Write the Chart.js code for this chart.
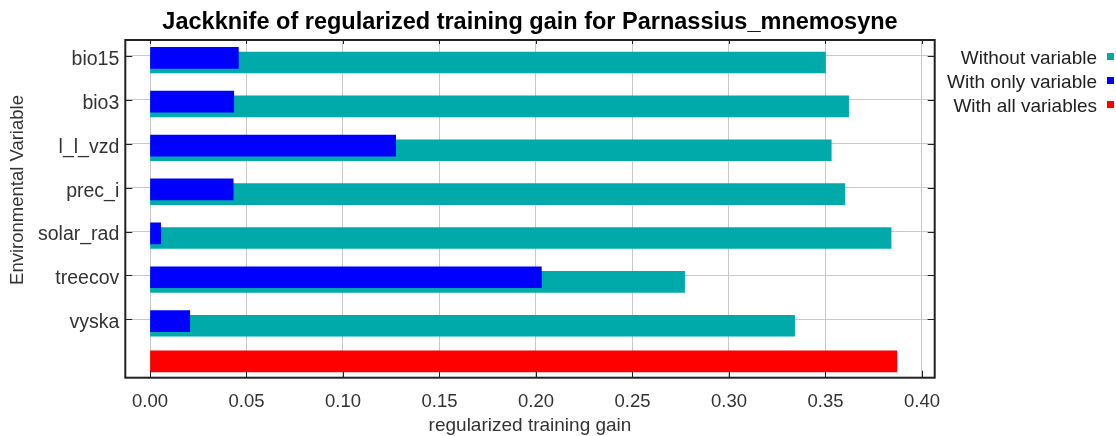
<!DOCTYPE html>
<html>
<head>
<meta charset="utf-8">
<script src="https://cdn.jsdelivr.net/npm/chart.js@4.4.1/dist/chart.umd.min.js"></script>
<style>
html,body{margin:0;padding:0;background:#fff;}
#wrap{position:relative;width:1116px;height:436px;overflow:hidden;background:#fff;}
#c{position:absolute;left:0;top:0;}
#legend{position:absolute;left:880px;top:46px;width:234px;font-family:'Liberation Sans',Arial,sans-serif;font-size:19px;color:#222;}
.lg-row{height:24px;line-height:24px;text-align:right;white-space:nowrap;}
.lg-box{display:inline-block;width:7px;height:7px;margin-left:10px;vertical-align:middle;position:relative;top:-2px;}
</style>
</head>
<body>
<div id="wrap">
  <canvas id="c" width="1116" height="436"></canvas>
  <div id="legend"></div>
</div>
<script>
// ---- data ----
const CATEGORIES = ['bio15', 'bio3', 'l_l_vzd', 'prec_i', 'solar_rad', 'treecov', 'vyska'];
const WITHOUT_VARIABLE = [0.350, 0.362, 0.353, 0.360, 0.384, 0.277, 0.334];
const WITH_ONLY_VARIABLE = [0.0458, 0.0434, 0.1273, 0.0431, 0.0055, 0.2028, 0.0206];
const WITH_ALL_VARIABLES = [0.387];
const X_TICKS = [0.00, 0.05, 0.10, 0.15, 0.20, 0.25, 0.30, 0.35, 0.40];
const SERIES_LABELS = ['Without variable', 'With only variable', 'With all variables'];
const TITLE = 'Jackknife of regularized training gain for Parnassius_mnemosyne';
const X_TITLE = 'regularized training gain';
const Y_TITLE = 'Environmental Variable';

// ---- styling / layout ----
const COLORS = ['#00aaaa', '#0000ff', '#ff0000'];
const FONT = "'Liberation Sans', Arial, sans-serif";
const OFF_WITHOUT = 0.148, OFF_ONLY = 0.041, OFF_ALL = -0.04;

const framePlugin = {
  id: 'frame',
  afterDatasetsDraw(chart) {
    const {ctx, chartArea: a, scales} = chart;
    const x = scales.x, y = scales.y;
    ctx.save();
    ctx.strokeStyle = '#222';
    ctx.lineWidth = 1;
    ctx.beginPath();
    x.ticks.forEach(t => {
      const px = Math.round(x.getPixelForValue(t.value)) + 0.5;
      ctx.moveTo(px, a.top); ctx.lineTo(px, a.top + 4);
      ctx.moveTo(px, a.bottom); ctx.lineTo(px, a.bottom - 7);
    });
    y.ticks.forEach(t => {
      const py = Math.round(y.getPixelForValue(t.value)) + 0.5;
      ctx.moveTo(a.left, py); ctx.lineTo(a.left + 7, py);
      ctx.moveTo(a.right, py); ctx.lineTo(a.right - 7, py);
    });
    ctx.stroke();
    ctx.lineWidth = 2;
    ctx.strokeRect(a.left, a.top, a.right - a.left, a.bottom - a.top);
    // y axis title
    ctx.translate(18, 190);
    ctx.rotate(-Math.PI / 2);
    ctx.fillStyle = '#333';
    ctx.font = '18.5px ' + FONT;
    ctx.textAlign = 'center';
    ctx.textBaseline = 'middle';
    ctx.fillText(Y_TITLE, 0, 0);
    ctx.restore();
  }
};

const chart = new Chart(document.getElementById('c'), {
  type: 'bar',
  data: {
    datasets: [
      { label: SERIES_LABELS[0], data: WITHOUT_VARIABLE.map((v, i) => ({x: v, y: i + OFF_WITHOUT})), backgroundColor: COLORS[0], order: 2 },
      { label: SERIES_LABELS[1], data: WITH_ONLY_VARIABLE.map((v, i) => ({x: v, y: i + OFF_ONLY})), backgroundColor: COLORS[1], order: 1 },
      { label: SERIES_LABELS[2], data: WITH_ALL_VARIABLES.map(v => ({x: v, y: CATEGORIES.length + OFF_ALL})), backgroundColor: COLORS[2], order: 0 }
    ]
  },
  options: {
    indexAxis: 'y',
    responsive: false,
    animation: false,
    datasets: { bar: { barThickness: 21, grouped: false, borderWidth: 0 } },
    layout: { padding: { left: 0, right: 181.3, top: 0, bottom: 0 } },
    plugins: {
      legend: { display: false },
      tooltip: { enabled: false },
      title: {
        display: true, text: TITLE, fullSize: false, color: '#000',
        font: { family: FONT, size: 23.5, weight: 'bold', lineHeight: 1.2 },
        padding: { top: 8.4, bottom: 3.4 }
      }
    },
    scales: {
      x: {
        type: 'linear', position: 'bottom', min: -0.0128, max: 0.4066, offset: false,
        afterBuildTicks: s => { s.ticks = X_TICKS.map(v => ({value: v})); },
        afterFit: s => { s.height = 58.3; },
        grid: { color: '#c8c8c8', lineWidth: 1, drawTicks: false, offset: false },
        border: { display: false },
        ticks: { padding: 13, color: '#333', font: { family: FONT, size: 18.5 }, autoSkip: false, maxRotation: 0,
                 callback: v => Number(v).toFixed(2) },
        title: { display: true, text: X_TITLE, color: '#333', font: { family: FONT, size: 19, lineHeight: 1 }, padding: { top: 0, bottom: 1 } }
      },
      y: {
        type: 'linear', reverse: true, min: -0.3646, max: 7.331, offset: false,
        afterBuildTicks: s => { s.ticks = CATEGORIES.map((c, i) => ({value: i})); },
        afterFit: s => { s.width = 125.3; },
        grid: { color: '#c8c8c8', lineWidth: 1, drawTicks: false, offset: false },
        border: { display: false },
        ticks: { padding: 6, labelOffset: 3.5, color: '#333', font: { family: FONT, size: 19.5 }, autoSkip: false,
                 callback: (v, idx) => CATEGORIES[idx] }
      }
    }
  },
  plugins: [framePlugin]
});

// HTML legend (text left, swatch right)
const lg = document.getElementById('legend');
SERIES_LABELS.forEach((lab, i) => {
  const row = document.createElement('div');
  row.className = 'lg-row';
  const t = document.createElement('span');
  t.textContent = lab;
  const b = document.createElement('span');
  b.className = 'lg-box';
  b.style.background = COLORS[i];
  row.appendChild(t); row.appendChild(b);
  lg.appendChild(row);
});
</script>
</body>
</html>
